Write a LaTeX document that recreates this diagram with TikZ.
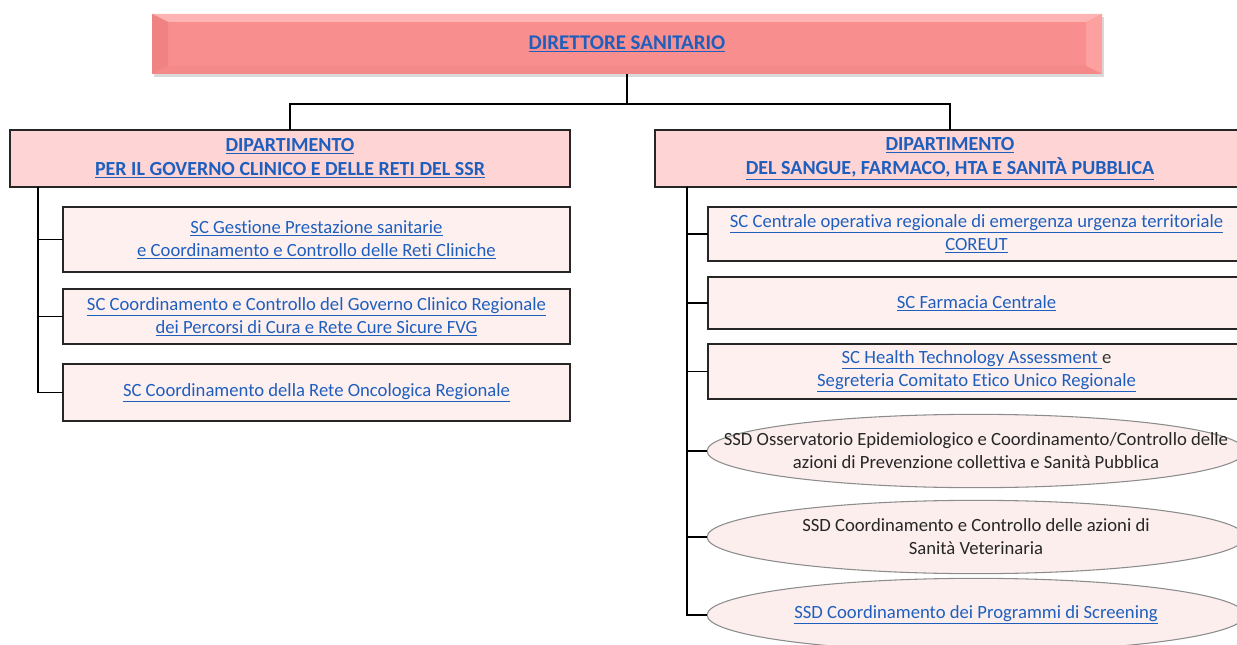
\documentclass[tikz,border=0pt]{standalone}
\usepackage{fontspec}
\setmainfont{Carlito}[Ligatures=NoCommon]
\usetikzlibrary{shadows}
\usetikzlibrary{shapes.geometric}

\definecolor{linkblue}{RGB}{30,95,190}
\definecolor{dirfill}{RGB}{249,142,142}
\definecolor{dirlight}{RGB}{255,180,180}
\definecolor{dirside}{RGB}{252,160,160}
\definecolor{dirdark}{RGB}{240,130,130}
\definecolor{deptfill}{RGB}{255,212,212}
\definecolor{unitfill}{RGB}{255,240,240}
\definecolor{ssdfill}{RGB}{253,238,238}

\newcommand{\lnk}[1]{{\color{linkblue}\underline{#1}}}

\tikzset{
  topbox/.style={rectangle, fill=dirfill, inner sep=0pt, outer sep=0pt,
    minimum width=712.5pt, minimum height=45pt,
    drop shadow={shadow xshift=1.5pt, shadow yshift=-2pt, opacity=.3},
    path picture={
      \fill[dirlight] (path picture bounding box.north west) -- ([shift={(12pt,-6pt)}]path picture bounding box.north west)
        -- ([shift={(-12pt,-6pt)}]path picture bounding box.north east) -- (path picture bounding box.north east) -- cycle;
      \fill[dirdark] (path picture bounding box.north west) -- ([shift={(12pt,-6pt)}]path picture bounding box.north west)
        -- ([shift={(12pt,6pt)}]path picture bounding box.south west) -- (path picture bounding box.south west) -- cycle;
      \fill[dirside] (path picture bounding box.north east) -- ([shift={(-12pt,-6pt)}]path picture bounding box.north east)
        -- ([shift={(-12pt,6pt)}]path picture bounding box.south east) -- (path picture bounding box.south east) -- cycle;
      \fill[dirdark!50!dirfill] (path picture bounding box.south west) -- ([shift={(12pt,6pt)}]path picture bounding box.south west)
        -- ([shift={(-12pt,6pt)}]path picture bounding box.south east) -- (path picture bounding box.south east) -- cycle;
    }},
  deptbox/.style={rectangle, draw=black!85, line width=1.1pt, fill=deptfill,
    inner sep=0pt, outer sep=0pt, minimum height=42.75pt, align=center,
    font=\fontsize{15}{18}\selectfont\bfseries,
    drop shadow={shadow xshift=1pt, shadow yshift=-1pt, opacity=.25}},
  unitbox/.style={rectangle, draw=black!85, line width=1.1pt, fill=unitfill,
    inner sep=0pt, outer sep=0pt, align=center,
    drop shadow={shadow xshift=1pt, shadow yshift=-1pt, opacity=.25}},
  ssdell/.style={ellipse, draw=black!45, line width=.8pt, fill=ssdfill,
    inner sep=0pt, outer sep=0pt, minimum width=403.5pt, minimum height=55pt},
  ssdtext/.style={align=center, text=black!85},
  link/.style={draw=black, line width=1.1pt}
}

\begin{document}
\begin{tikzpicture}[x=0.75pt, y=-0.75pt, font=\fontsize{14}{17.25}\selectfont]
  \path[use as bounding box] (0,0) rectangle (1237,645);
  \clip (0,0) rectangle (1237,645);

  % direzione
  \node[topbox] (top) at (627,44) {};
  \node[font=\fontsize{15.7}{18}\selectfont\bfseries] (toptext) at (top) {\lnk{DIRETTORE SANITARIO}};

  % dipartimenti
  \node[deptbox, minimum width=420pt] (dl) at (290,158.5)
    {\lnk{DIPARTIMENTO}\\\lnk{PER IL GOVERNO CLINICO E DELLE RETI DEL SSR}};
  \node[deptbox, minimum width=442.5pt] (dr) at (950,158.5)
    {\lnk{DIPARTIMENTO}\\\lnk{DEL SANGUE, FARMACO, HTA E SANITÀ PUBBLICA}};

  % strutture di sinistra
  \node[unitbox, minimum width=380.25pt, minimum height=48.75pt] (lc1) at (316.5,239.5)
    {\lnk{SC Gestione Prestazione sanitarie}\\\lnk{e Coordinamento e Controllo delle Reti Cliniche}};
  \node[unitbox, minimum width=380.25pt, minimum height=41.25pt] (lc2) at (316.5,316.5)
    {\lnk{SC Coordinamento e Controllo del Governo Clinico Regionale}\\\lnk{dei Percorsi di Cura e Rete Cure Sicure FVG}};
  \node[unitbox, minimum width=380.25pt, minimum height=42.75pt] (lc3) at (316.5,392.5)
    {\lnk{SC Coordinamento della Rete Oncologica Regionale}};

  % strutture di destra
  \node[unitbox, minimum width=402.75pt, minimum height=40.5pt] (rc1) at (976.5,234)
    {\lnk{SC Centrale operativa regionale di emergenza urgenza territoriale}\\\lnk{COREUT}};
  \node[unitbox, minimum width=402.75pt, minimum height=39pt] (rc2) at (976.5,303)
    {\lnk{SC Farmacia Centrale}};
  \node[unitbox, minimum width=402.75pt, minimum height=41.25pt] (rc3) at (976.5,371.5)
    {\lnk{SC Health Technology Assessment }{\color{black!80}e}\\\lnk{Segreteria Comitato Etico Unico Regionale}};

  \node[ssdell] (re1) at (976,451) {};
  \node[ssdtext] (re1t) at (re1) {SSD Osservatorio Epidemiologico e Coordinamento/Controllo delle\\azioni di Prevenzione collettiva e Sanità Pubblica};
  \node[ssdell] (re2) at (976,537) {};
  \node[ssdtext] (re2t) at (re2) {SSD Coordinamento e Controllo delle azioni di\\Sanità Veterinaria};
  \node[ssdell] (re3) at (976,615) {};
  \node[ssdtext] (re3t) at (re3) {\lnk{SSD Coordinamento dei Programmi di Screening}};

  % collegamenti
  \coordinate (split) at ([yshift=-22.5pt]top.south);
  \draw[link] (top) -- (split);
  \draw[link] (dl) |- (split) -| (dr);

  \coordinate (ltrunk) at ([xshift=21pt]dl.south west);
  \foreach \u in {lc1,lc2,lc3}
    \draw[link] (ltrunk) |- (\u);

  \coordinate (rtrunk) at ([xshift=24pt]dr.south west);
  \foreach \u in {rc1,rc2,rc3,re1,re2,re3}
    \draw[link] (rtrunk) |- (\u);
\end{tikzpicture}
\end{document}
